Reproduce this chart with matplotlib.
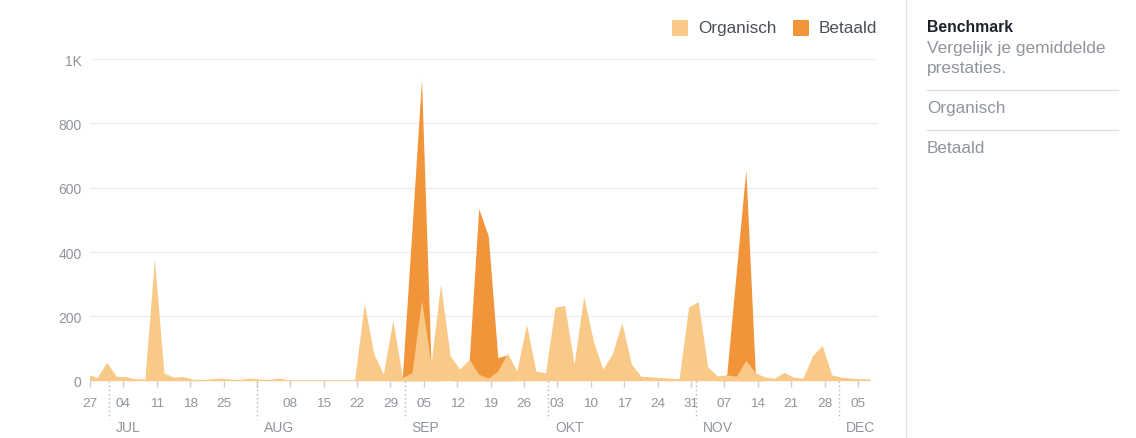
import numpy as np
import pandas as pd
import matplotlib
matplotlib.use("Agg")
import matplotlib.pyplot as plt
import matplotlib.transforms as mtransforms
from matplotlib.lines import Line2D
from matplotlib.patches import FancyBboxPatch

plt.rcParams["font.family"] = ["Liberation Sans", "DejaVu Sans"]

# data points every second day (the chart puts them half a day before each date)
dates = pd.date_range("2016-06-26 12:00", periods=83, freq="2D")

organisch = [
    20, 10, 57, 14, 12, 6, 5, 378, 24, 11, 13, 5, 4, 6,
    8, 5, 4, 8, 5, 4, 8, 3, 3, 3, 3, 3, 3, 3,
    3, 241, 83, 21, 188, 10, 25, 250, 52, 300, 78, 36, 66, 20,
    8, 30, 86, 30, 175, 30, 24, 228, 234, 52, 262, 125, 36, 83,
    181, 52, 14, 12, 10, 8, 6, 229, 246, 43, 15, 18, 14, 63,
    25, 11, 8, 26, 11, 8, 78, 110, 18, 11, 8, 6, 6,
]
betaald = [
    0, 0, 0, 0, 0, 0, 0, 0, 0, 0, 0, 0, 0, 0,
    0, 0, 0, 0, 0, 0, 0, 0, 0, 0, 0, 0, 0, 0,
    0, 0, 0, 0, 0, 15, 470, 937, 50, 0, 0, 10, 62, 535,
    450, 72, 80, 0, 0, 0, 0, 0, 0, 0, 0, 0, 0, 0,
    0, 0, 0, 0, 0, 0, 0, 0, 0, 0, 0, 20, 340, 657,
    20, 0, 0, 0, 0, 0, 0, 0, 0, 0, 0, 0, 0,
]

week_ticks = pd.date_range("2016-06-27", "2016-12-05", freq="7D")
week_labels = ["" if d.day == 1 else d.strftime("%d") for d in week_ticks]
month_starts = pd.date_range("2016-07-01", "2016-12-01", freq="MS")
month_names = ["JUL", "AUG", "SEP", "OKT", "NOV", "DEC"]

y_ticks = [0, 200, 400, 600, 800, 1000]
y_labels = ["0", "200", "400", "600", "800", "1K"]

c_org = "#f8c987"
c_bet = "#f2953a"
grey = "#90949c"
W, H = 1136, 439

fig = plt.figure(figsize=(W / 100, H / 100), dpi=100)
ax = fig.add_axes([90 / W, (H - 381.7) / H, 788 / W, 321.7 / H])

ax.fill_between(dates, betaald, color=c_bet, lw=0, zorder=2)
ax.fill_between(dates, organisch, color=c_org, lw=0, zorder=3)

ax.set_xlim(pd.Timestamp("2016-06-27"), pd.Timestamp("2016-12-09 05:00"))
ax.set_ylim(0, 1000)

ax.set_yticks(y_ticks, y_labels)
ax.set_xticks(week_ticks, week_labels)
ax.tick_params(axis="y", length=0, pad=6, labelsize=10, labelcolor=grey)
ax.tick_params(axis="x", length=4, width=1, color="#c9ccd1", pad=8,
               labelsize=9.7, labelcolor=grey)
ax.grid(axis="y", color="#eceef0", lw=1, zorder=0)
for s in ax.spines.values():
    s.set_visible(False)

# dotted month separators and month names below the axis
trans = mtransforms.blended_transform_factory(ax.transData, ax.transAxes)
label_trans = mtransforms.offset_copy(trans, fig=fig, x=7, y=0, units="dots")
for d, name in zip(month_starts, month_names):
    ax.plot([d, d], [0, -0.12], transform=trans, clip_on=False,
            color="#b4b7bc", lw=1, ls=(0, (1, 2)))
    ax.text(d, -0.144, name, transform=label_trans, ha="left", va="center",
            fontsize=10, color=grey)

# legend
for x0, col, lab in [(672, c_org, "Organisch"), (793, c_bet, "Betaald")]:
    fig.add_artist(FancyBboxPatch((x0 / W, 1 - 37 / H), 16 / W, 16 / H,
                                  boxstyle="round,pad=0,rounding_size=0.002",
                                  transform=fig.transFigure, color=col, lw=0))
    fig.text((x0 + 26) / W, 1 - 28.5 / H, lab, ha="left", va="center",
             fontsize=12.3, color="#4b4f56")

# benchmark side panel
fig.add_artist(Line2D([906 / W, 906 / W], [0, 1], color="#dddfe2", lw=1))
fig.text(927 / W, 1 - 32 / H, "Benchmark", fontsize=11.3, fontweight="bold",
         color="#1d2129", ha="left", va="baseline")
fig.text(927 / W, 1 - 52.7 / H, "Vergelijk je gemiddelde", fontsize=12.5,
         color=grey, ha="left", va="baseline")
fig.text(927 / W, 1 - 72.7 / H, "prestaties.", fontsize=12.5,
         color=grey, ha="left", va="baseline")
for yy in [90.7, 130.7]:
    fig.add_artist(Line2D([927 / W, 1118 / W], [1 - yy / H] * 2,
                          color="#dddfe2", lw=1))
fig.text(927 / W, 1 - 113.3 / H, "Organisch", fontsize=12.3, color=grey,
         ha="left", va="baseline")
fig.text(927 / W, 1 - 153.3 / H, "Betaald", fontsize=12.3, color=grey,
         ha="left", va="baseline")

fig.savefig("out.png", dpi=100, facecolor="white")
